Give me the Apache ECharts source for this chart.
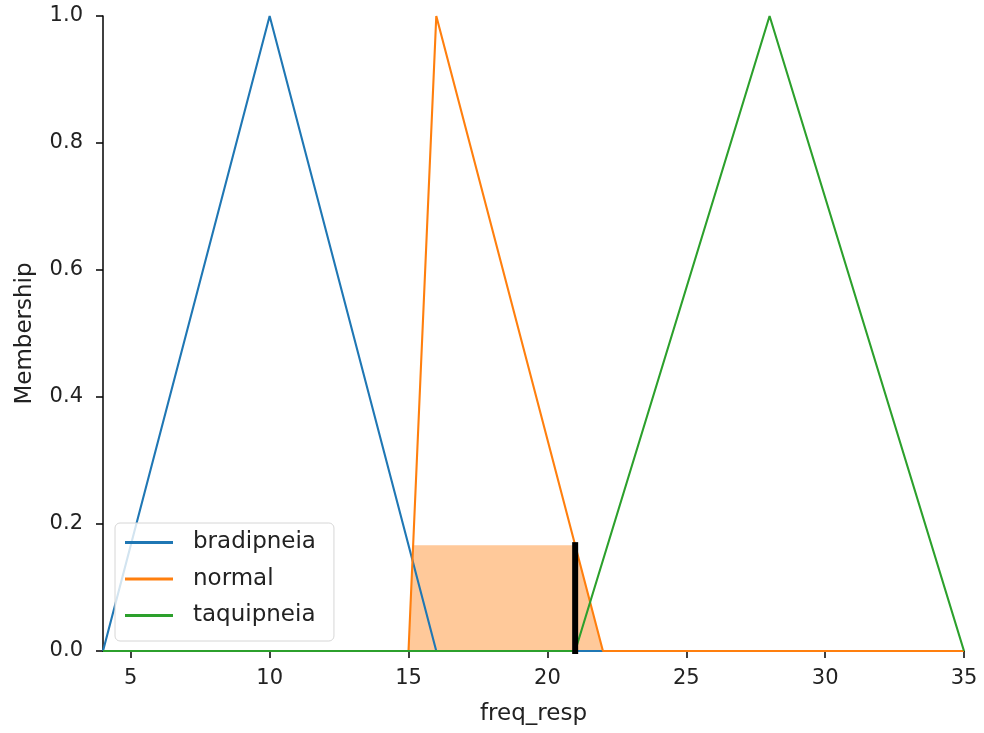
<!DOCTYPE html>
<html>
<head>
<meta charset="utf-8">
<script src="https://cdn.jsdelivr.net/npm/echarts@6/dist/echarts.min.js"></script>
<style>html,body{margin:0;padding:0;background:#fff}#c{width:984px;height:733px}</style>
</head>
<body>
<div id="c"></div>
<script>
// Universe and membership functions (key points)
const seriesNames = ['bradipneia', 'normal', 'taquipneia'];
const bradipneiaPts = [[4, 0], [10, 1], [16, 0], [35, 0]];
const normalPts = [[4, 0], [15, 0], [16, 1], [22, 0], [35, 0]];
const taquipneiaPts = [[4, 0], [21, 0], [28, 1], [35, 0]];
const activatedPts = [[15, 0], [15.1667, 0.1667], [21, 0.1667], [22, 0]];
const inputLine = [[21, 0], [21, 0.1667]];
const xTicks = [5, 10, 15, 20, 25, 30, 35];
const yTicks = [0, 0.2, 0.4, 0.6, 0.8, 1.0];
const colors = ['#1f77b4', '#ff7f0e', '#2ca02c'];

const font = 'DejaVu Sans';
const tickSize = 21, labelSize = 23;
const chart = echarts.init(document.getElementById('c'), null, {renderer: 'canvas'});
const lineSeries = (name, data, color) => ({
  name, type: 'line', data, symbol: 'none', z: 3,
  lineStyle: {color, width: 2.1}, itemStyle: {color}, animation: false
});
chart.setOption({
  animation: false,
  grid: {left: 103, right: 20, top: 16, bottom: 82, containLabel: false},
  legend: {
    data: seriesNames, orient: 'vertical', left: 115, top: 523,
    icon: 'path://M0,0 L48,0 L48,3 L0,3 Z', itemWidth: 48, itemHeight: 3,
    itemGap: 13.5, padding: [8, 18, 14, 10],
    backgroundColor: 'rgba(255,255,255,0.8)', borderColor: '#d6d6d6', borderWidth: 1, borderRadius: 5,
    textStyle: {fontFamily: font, fontSize: labelSize, color: '#222', lineHeight: 23, padding: [0, 0, 0, 15]}
  },
  xAxis: {
    type: 'value', min: 4, max: 35,
    name: 'freq_resp', nameLocation: 'middle', nameGap: 52,
    nameTextStyle: {fontFamily: font, fontSize: labelSize, color: '#222'},
    axisLine: {show: true, lineStyle: {color: '#000', width: 1.5}},
    axisTick: {show: true, length: 7, lineStyle: {color: '#000', width: 1.5}, customValues: xTicks},
    axisLabel: {fontFamily: font, fontSize: tickSize, color: '#222', margin: 17, customValues: xTicks},
    splitLine: {show: false}
  },
  yAxis: {
    type: 'value', min: 0, max: 1, interval: 0.2,
    name: 'Membership', nameLocation: 'middle', nameGap: 66, nameRotate: 90,
    nameTextStyle: {fontFamily: font, fontSize: labelSize, color: '#222'},
    axisLine: {show: true, lineStyle: {color: '#000', width: 1.5}},
    axisTick: {show: true, length: 7, lineStyle: {color: '#000', width: 1.5}},
    axisLabel: {fontFamily: font, fontSize: tickSize, color: '#222', margin: 20,
      formatter: v => v.toFixed(1)},
    splitLine: {show: false}
  },
  series: [
    {
      name: 'activation', type: 'line', data: activatedPts, symbol: 'none', z: 1,
      lineStyle: {width: 0}, areaStyle: {color: 'rgba(255,127,14,0.42)', opacity: 1, origin: 'start'}
    },
    lineSeries(seriesNames[0], bradipneiaPts, colors[0]),
    lineSeries(seriesNames[1], normalPts, colors[1]),
    lineSeries(seriesNames[2], taquipneiaPts, colors[2]),
    {
      name: 'input', type: 'line', data: inputLine, symbol: 'none', z: 4,
      lineStyle: {color: '#000', width: 6, cap: 'square'}
    }
  ]
});
</script>
</body>
</html>
